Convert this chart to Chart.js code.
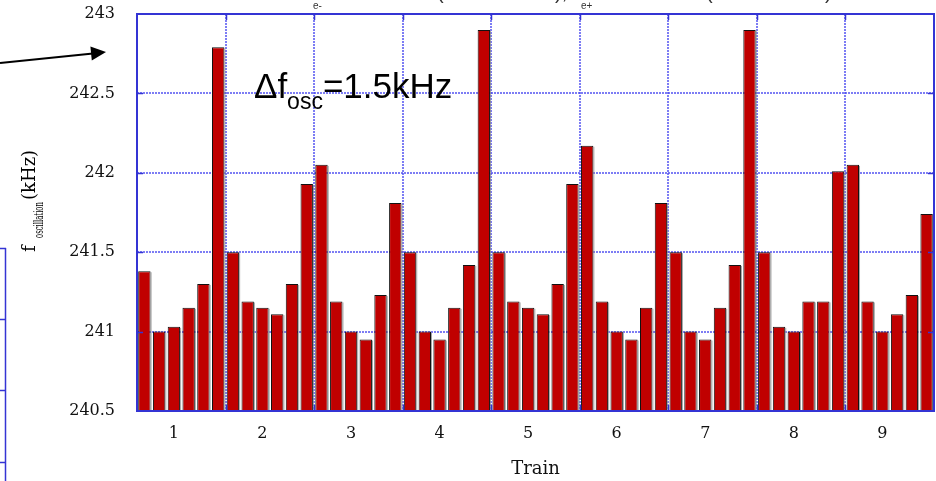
<!DOCTYPE html>
<html>
<head>
<meta charset="utf-8">
<script src="https://cdn.jsdelivr.net/npm/chart.js@4/dist/chart.umd.min.js"></script>
<style>
html,body{margin:0;padding:0;background:#fff;}
#wrap{width:936px;height:481px;}
</style>
</head>
<body>
<div id="wrap"><canvas id="chart" width="936" height="481"></canvas></div>
<script>
// 9 trains, 6 bunches each
const trains = ['1','2','3','4','5','6','7','8','9'];
const perTrain = 6;

// oscillation frequency (kHz) per bunch
const freq = [
  241.38, 241.00, 241.03, 241.15, 241.30, 242.79, // train 1
  241.50, 241.19, 241.15, 241.11, 241.30, 241.93, // train 2
  242.05, 241.19, 241.00, 240.95, 241.23, 241.81, // train 3
  241.50, 241.00, 240.95, 241.15, 241.42, 242.90, // train 4
  241.50, 241.19, 241.15, 241.11, 241.30, 241.93, // train 5
  242.17, 241.19, 241.00, 240.95, 241.15, 241.81, // train 6
  241.50, 241.00, 240.95, 241.15, 241.42, 242.90, // train 7
  241.50, 241.03, 241.00, 241.19, 241.19, 242.01, // train 8
  242.05, 241.19, 241.00, 241.11, 241.23, 241.74  // train 9
];

const yTicks = [240.5, 241, 241.5, 242, 242.5, 243];

const bunches = [];
trains.forEach(t => { for (let b = 1; b <= perTrain; b++) bunches.push(t + '-' + b); });

const BLUE = '#3434d4';
const GRID = 'rgba(70,70,240,0.7)';

const extras = {
  id: 'extras',
  afterDatasetsDraw(chart){
    const ctx = chart.ctx, a = chart.chartArea;
    const xs = chart.scales.x, ys = chart.scales.y;
    ctx.save();
    // grey shading right of each bar
    chart.getDatasetMeta(0).data.forEach(b => {
      ctx.strokeStyle = 'rgba(140,140,140,0.8)';
      ctx.lineWidth = 1;
      ctx.beginPath();
      ctx.moveTo(b.x + b.width/2 + 0.5, b.y + 1);
      ctx.lineTo(b.x + b.width/2 + 0.5, a.bottom);
      ctx.stroke();
    });
    // frame
    ctx.strokeStyle = BLUE;
    ctx.lineWidth = 2;
    ctx.strokeRect(a.left, a.top, a.right - a.left, a.bottom - a.top);
    // small tick marks
    ctx.lineWidth = 1.5;
    ctx.beginPath();
    yTicks.slice(1, -1).forEach(v => {
      const y = Math.round(ys.getPixelForValue(v)) + 0.5;
      ctx.moveTo(a.left, y); ctx.lineTo(a.left + 6, y);
      ctx.moveTo(a.right - 6, y); ctx.lineTo(a.right, y);
    });
    for (let k = 1; k < trains.length; k++) {
      const i = k * perTrain;
      const x = Math.round((xs.getPixelForTick(i - 1) + xs.getPixelForTick(i)) / 2) + 0.5;
      ctx.moveTo(x, a.top); ctx.lineTo(x, a.top + 6);
      ctx.moveTo(x, a.bottom - 6); ctx.lineTo(x, a.bottom);
    }
    ctx.stroke();
    ctx.restore();
  },
  afterDraw(chart){
    const ctx = chart.ctx;
    ctx.save();
    ctx.fillStyle = '#000';
    ctx.textBaseline = 'alphabetic';

    // delta f annotation
    ctx.font = '35px "Liberation Sans", Arial, sans-serif';
    let x = 254;
    ctx.fillText('\u0394f', x, 98);
    x += ctx.measureText('\u0394f').width;
    ctx.font = '23px "Liberation Sans", Arial, sans-serif';
    ctx.fillText('osc', x, 109);
    x += ctx.measureText('osc').width;
    ctx.font = '35px "Liberation Sans", Arial, sans-serif';
    ctx.fillText('=1.5kHz', x, 98);

    // cut-off header pieces
    ctx.fillStyle = '#333';
    ctx.font = '10px "Liberation Sans", Arial, sans-serif';
    ctx.fillText('e-', 313, 9);
    ctx.fillText('e+', 581, 9);
    ctx.font = '20px "Liberation Sans", Arial, sans-serif';
    ctx.fillText('(', 437, -1);
    ctx.fillText('),', 555, -1);
    ctx.fillText('(', 706, -1);
    ctx.fillText(')', 825, -1);

    // y axis title with subscript
    ctx.fillStyle = '#000';
    ctx.translate(35, 258);
    ctx.rotate(-Math.PI / 2);
    ctx.font = '18px "DejaVu Serif", serif';
    ctx.fillText('f', 6, 0);
    ctx.save();
    ctx.font = '13px "DejaVu Serif", serif';
    const sw = ctx.measureText('oscillation').width;
    ctx.translate(20, 8);
    ctx.scale(36 / sw, 1);
    ctx.fillText('oscillation', 0, 0);
    ctx.restore();
    ctx.font = '18px "DejaVu Serif", serif';
    ctx.fillText('(kHz)', 58, 0);
    ctx.setTransform(1, 0, 0, 1, 0, 0);

    // arrow
    ctx.strokeStyle = '#000';
    ctx.lineWidth = 2;
    ctx.beginPath();
    ctx.moveTo(0, 63);
    ctx.lineTo(93, 53.5);
    ctx.stroke();
    ctx.beginPath();
    ctx.moveTo(106, 52);
    ctx.lineTo(90.4, 46.5);
    ctx.lineTo(91.8, 60.5);
    ctx.closePath();
    ctx.fill();

    // edge of neighbouring plot
    ctx.strokeStyle = BLUE;
    ctx.lineWidth = 1.5;
    ctx.beginPath();
    ctx.moveTo(5.5, 248); ctx.lineTo(5.5, 481);
    [248, 319, 390, 462].forEach(y => { ctx.moveTo(0, y + 0.5); ctx.lineTo(6, y + 0.5); });
    ctx.stroke();
    ctx.restore();
  }
};

new Chart(document.getElementById('chart'), {
  type: 'bar',
  data: {
    labels: bunches,
    datasets: [{
      data: freq,
      backgroundColor: '#c00000',
      borderColor: '#111',
      borderWidth: 1,
      barPercentage: 0.84,
      categoryPercentage: 1
    }]
  },
  options: {
    responsive: false,
    animation: false,
    devicePixelRatio: 1,
    layout: { padding: { left: 0, right: 2, top: 14, bottom: 0 } },
    plugins: { legend: { display: false }, tooltip: { enabled: false } },
    scales: {
      x: {
        z: 1, // train separators sit above the bar shading
        afterFit: s => { s.height = 70; s.paddingLeft = 0; s.paddingRight = 0; },
        border: { display: false, dash: [2, 1] },
        grid: {
          drawTicks: false,
          lineWidth: 2,
          color: c => (c.index % perTrain === 0 && c.index > 0 && c.index < bunches.length) ? GRID : 'rgba(0,0,0,0)'
        },
        ticks: {
          autoSkip: false,
          maxRotation: 0,
          padding: 13,
          color: '#111',
          font: { family: '"DejaVu Serif", serif', size: 16 },
          callback: (v, i) => i % perTrain === 2 ? trains[Math.floor(i / perTrain)] : ''
        },
        title: {
          display: true,
          text: 'Train',
          color: '#111',
          font: { family: '"DejaVu Serif", serif', size: 18 },
          padding: { top: 0, bottom: 1 }
        }
      },
      y: {
        min: 240.5,
        max: 243,
        afterFit: s => { s.width = 137; s.paddingTop = 0; s.paddingBottom = 0; },
        border: { display: false, dash: [2, 1] },
        grid: {
          drawTicks: false,
          lineWidth: 2,
          color: c => (c.tick && c.tick.value > 240.5 && c.tick.value < 243) ? GRID : 'rgba(0,0,0,0)'
        },
        ticks: {
          stepSize: 0.5,
          padding: 22,
          color: '#111',
          font: { family: '"DejaVu Serif", serif', size: 16 },
          callback: v => String(v)
        }
      }
    }
  },
  plugins: [extras]
});
</script>
</body>
</html>
